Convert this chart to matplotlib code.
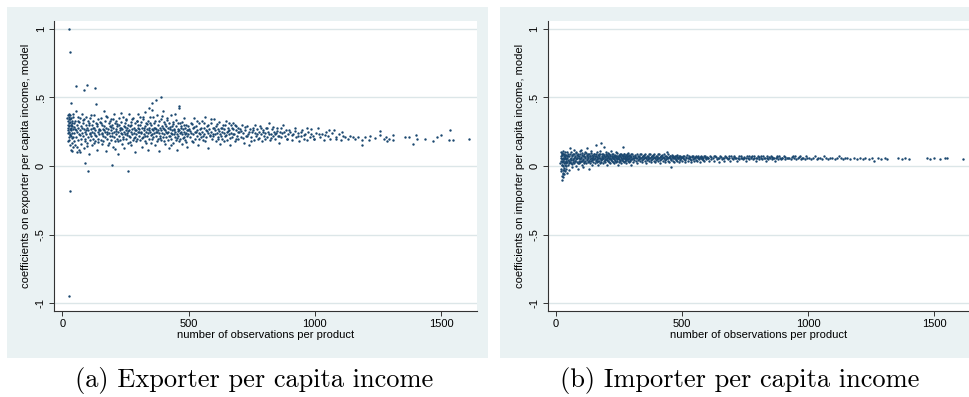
import numpy as np
import matplotlib
matplotlib.use("Agg")
import matplotlib.pyplot as plt
from matplotlib.patches import Rectangle

# values (x = obs per product, y = coefficient)
exp_outliers = [(25, 1.0), (31, 0.83), (32, -0.18), (28, -0.95), (35, 0.46), (55, 0.58),
                (85, 0.55), (97, 0.59), (128, 0.57), (135, 0.45), (88, 0.02), (100, -0.04),
                (262, -0.04), (197, 0.005), (392, 0.50), (370, 0.48), (462, 0.44), (355, 0.46),
                (345, 0.42), (300, 0.38), (60, 0.10), (40, 0.11)]
exp_low_n = [(20, 0.35), (21, 0.30), (22, 0.26), (22, 0.37), (23, 0.24), (24, 0.33), (24, 0.28),
             (25, 0.21), (25, 0.38), (26, 0.31), (27, 0.25), (27, 0.36), (28, 0.29), (28, 0.19),
             (29, 0.34), (30, 0.27), (30, 0.23), (31, 0.32), (31, 0.15), (32, 0.37), (33, 0.30),
             (33, 0.26), (34, 0.22), (35, 0.35), (35, 0.12), (36, 0.28), (37, 0.31), (37, 0.17),
             (38, 0.24), (39, 0.33), (40, 0.29), (41, 0.14), (42, 0.38), (43, 0.27), (44, 0.21),
             (45, 0.31)]
exp_50_150 = [(46, 0.24), (48, 0.18), (50, 0.33), (52, 0.27), (53, 0.40), (55, 0.21), (57, 0.30),
              (58, 0.14), (60, 0.25), (61, 0.36), (63, 0.19), (64, 0.28), (66, 0.32), (67, 0.23),
              (69, 0.10), (70, 0.26), (72, 0.35), (73, 0.20), (75, 0.29), (76, 0.16), (78, 0.38),
              (79, 0.24), (81, 0.31), (82, 0.22), (84, 0.27), (86, 0.13), (87, 0.34), (89, 0.25),
              (90, 0.20), (92, 0.30), (93, 0.36), (95, 0.23), (96, 0.17), (98, 0.28), (100, 0.33),
              (101, 0.21), (103, 0.26), (104, 0.09), (106, 0.31), (108, 0.24), (109, 0.19),
              (111, 0.35), (112, 0.27), (114, 0.22), (116, 0.30), (117, 0.15), (119, 0.25),
              (121, 0.33), (122, 0.20), (124, 0.28), (126, 0.24), (127, 0.37), (129, 0.18),
              (131, 0.26), (133, 0.31), (134, 0.22), (136, 0.12), (138, 0.29), (140, 0.25),
              (142, 0.34), (143, 0.20), (145, 0.27), (147, 0.23), (149, 0.32)]
exp_150_300 = [(151, 0.26), (153, 0.19), (154, 0.35), (156, 0.24), (158, 0.30), (159, 0.16),
               (161, 0.27), (163, 0.22), (164, 0.40), (166, 0.29), (168, 0.21), (169, 0.33),
               (171, 0.25), (173, 0.11), (174, 0.28), (176, 0.23), (178, 0.36), (179, 0.20),
               (181, 0.27), (183, 0.31), (184, 0.24), (186, 0.17), (188, 0.29), (189, 0.22),
               (191, 0.34), (193, 0.26), (194, 0.19), (196, 0.30), (198, 0.24), (199, 0.14),
               (201, 0.28), (203, 0.21), (204, 0.38), (206, 0.25), (208, 0.31), (209, 0.18),
               (211, 0.27), (213, 0.23), (214, 0.33), (216, 0.20), (218, 0.29), (219, 0.25),
               (221, 0.09), (223, 0.30), (224, 0.22), (226, 0.35), (228, 0.26), (229, 0.19),
               (231, 0.28), (233, 0.24), (234, 0.32), (236, 0.16), (238, 0.27), (239, 0.21),
               (241, 0.36), (243, 0.25), (244, 0.29), (246, 0.13), (248, 0.23), (249, 0.31),
               (251, 0.26), (253, 0.20), (254, 0.34), (256, 0.24), (258, 0.28), (259, 0.17),
               (261, 0.30), (263, 0.22), (264, 0.26), (266, 0.38), (268, 0.21), (269, 0.29),
               (271, 0.25), (273, 0.15), (274, 0.32), (276, 0.23), (278, 0.27), (279, 0.19),
               (281, 0.35), (283, 0.24), (284, 0.28), (286, 0.21), (288, 0.31), (289, 0.10),
               (291, 0.26), (293, 0.23), (294, 0.33), (296, 0.20), (298, 0.28), (299, 0.25)]
exp_300_500 = [(301, 0.30), (303, 0.22), (305, 0.27), (306, 0.36), (308, 0.19), (310, 0.25),
               (312, 0.32), (313, 0.24), (315, 0.14), (317, 0.28), (319, 0.21), (320, 0.34),
               (322, 0.26), (324, 0.23), (326, 0.39), (327, 0.29), (329, 0.18), (331, 0.25),
               (333, 0.31), (334, 0.22), (336, 0.27), (338, 0.12), (340, 0.33), (341, 0.24),
               (343, 0.28), (345, 0.20), (347, 0.36), (348, 0.25), (350, 0.30), (352, 0.17),
               (354, 0.27), (355, 0.23), (357, 0.41), (359, 0.26), (361, 0.21), (362, 0.31),
               (364, 0.24), (366, 0.28), (368, 0.15), (369, 0.33), (371, 0.22), (373, 0.27),
               (375, 0.37), (376, 0.25), (378, 0.20), (380, 0.30), (382, 0.24), (383, 0.11),
               (385, 0.28), (387, 0.22), (389, 0.34), (390, 0.26), (392, 0.19), (394, 0.29),
               (396, 0.24), (397, 0.40), (399, 0.21), (401, 0.27), (403, 0.32), (404, 0.23),
               (406, 0.16), (408, 0.26), (410, 0.29), (411, 0.21), (413, 0.35), (415, 0.24),
               (417, 0.19), (418, 0.28), (420, 0.25), (422, 0.13), (424, 0.31), (425, 0.22),
               (427, 0.27), (429, 0.37), (431, 0.24), (432, 0.20), (434, 0.29), (436, 0.26),
               (438, 0.17), (439, 0.32), (441, 0.23), (443, 0.27), (445, 0.21), (446, 0.38),
               (448, 0.25), (450, 0.19), (452, 0.29), (453, 0.23), (455, 0.12), (457, 0.27),
               (459, 0.31), (460, 0.22), (462, 0.26), (464, 0.42), (466, 0.24), (467, 0.20),
               (469, 0.29), (471, 0.25), (473, 0.16), (474, 0.32), (476, 0.23), (478, 0.27),
               (480, 0.21), (481, 0.35), (483, 0.25), (485, 0.19), (487, 0.28), (488, 0.24),
               (490, 0.30), (492, 0.22), (494, 0.26), (495, 0.14), (497, 0.29), (499, 0.23)]
exp_500_700 = [(502, 0.27), (505, 0.21), (508, 0.31), (510, 0.24), (513, 0.18), (516, 0.28),
               (519, 0.23), (521, 0.35), (524, 0.25), (527, 0.20), (530, 0.29), (532, 0.22),
               (535, 0.26), (538, 0.15), (541, 0.31), (543, 0.24), (546, 0.27), (549, 0.21),
               (552, 0.33), (554, 0.25), (557, 0.19), (560, 0.28), (563, 0.23), (565, 0.36),
               (568, 0.26), (571, 0.21), (574, 0.29), (576, 0.24), (579, 0.13), (582, 0.27),
               (585, 0.22), (587, 0.31), (590, 0.25), (593, 0.20), (596, 0.28), (598, 0.23),
               (601, 0.34), (604, 0.26), (607, 0.18), (609, 0.29), (612, 0.24), (615, 0.21),
               (618, 0.27), (620, 0.32), (623, 0.23), (626, 0.16), (629, 0.28), (631, 0.25),
               (634, 0.20), (637, 0.30), (640, 0.24), (642, 0.27), (645, 0.22), (648, 0.33),
               (651, 0.25), (653, 0.19), (656, 0.28), (659, 0.23), (662, 0.26), (664, 0.15),
               (667, 0.30), (670, 0.24), (673, 0.21), (675, 0.27), (678, 0.31), (681, 0.23),
               (684, 0.18), (686, 0.26), (689, 0.29), (692, 0.22), (695, 0.25), (697, 0.20)]
exp_700_900 = [(702, 0.27), (706, 0.21), (710, 0.30), (714, 0.24), (718, 0.17), (722, 0.26),
               (726, 0.22), (730, 0.29), (734, 0.23), (738, 0.15), (742, 0.27), (746, 0.21),
               (750, 0.25), (754, 0.28), (758, 0.19), (762, 0.24), (766, 0.22), (770, 0.27),
               (774, 0.20), (778, 0.25), (782, 0.29), (786, 0.23), (790, 0.18), (794, 0.26),
               (798, 0.22), (802, 0.24), (806, 0.28), (810, 0.21), (814, 0.25), (818, 0.31),
               (822, 0.19), (826, 0.23), (830, 0.27), (834, 0.22), (838, 0.25), (842, 0.20),
               (846, 0.24), (850, 0.28), (854, 0.22), (858, 0.17), (862, 0.25), (866, 0.21),
               (870, 0.24), (875, 0.30), (880, 0.22), (885, 0.26), (890, 0.20), (895, 0.23)]
exp_900_1180 = [(902, 0.25), (908, 0.19), (914, 0.23), (920, 0.28), (926, 0.21), (932, 0.24),
                (938, 0.18), (944, 0.22), (950, 0.26), (956, 0.20), (962, 0.23), (968, 0.19),
                (974, 0.25), (980, 0.21), (986, 0.27), (992, 0.22), (998, 0.20), (1005, 0.24),
                (1012, 0.28), (1020, 0.21), (1028, 0.23), (1036, 0.19), (1045, 0.25),
                (1052, 0.22), (1060, 0.20), (1068, 0.24), (1076, 0.26), (1085, 0.21),
                (1094, 0.23), (1102, 0.19), (1110, 0.22), (1120, 0.21), (1130, 0.20),
                (1140, 0.22), (1150, 0.21), (1160, 0.20), (1172, 0.21)]
exp_tail = [(1185, 0.19), (1187, 0.153), (1200, 0.209), (1215, 0.19), (1219, 0.219),
            (1240, 0.207), (1257, 0.253), (1258, 0.224), (1274, 0.199), (1281, 0.214),
            (1287, 0.184), (1295, 0.20), (1310, 0.224), (1310, 0.19), (1357, 0.209),
            (1374, 0.209), (1388, 0.162), (1401, 0.224), (1405, 0.195), (1438, 0.197),
            (1470, 0.184), (1483, 0.209), (1499, 0.224), (1530, 0.19), (1537, 0.262),
            (1546, 0.19), (1611, 0.195)]
exp_fill = [(23, 0.185), (26, 0.345), (29, 0.225), (34, 0.295), (39, 0.205), (44, 0.355),
            (47, 0.285), (51, 0.155), (56, 0.265), (62, 0.325), (65, 0.115), (71, 0.225),
            (77, 0.275), (83, 0.335), (88, 0.185), (94, 0.265), (99, 0.145), (105, 0.295),
            (110, 0.235), (115, 0.375), (120, 0.275), (125, 0.165), (130, 0.225), (137, 0.305),
            (141, 0.175), (146, 0.265), (152, 0.315), (157, 0.235), (162, 0.185), (167, 0.265),
            (172, 0.365), (177, 0.245), (182, 0.155), (187, 0.325), (192, 0.285), (197, 0.215),
            (202, 0.345), (207, 0.125), (212, 0.255), (217, 0.305), (222, 0.185), (227, 0.275),
            (232, 0.385), (237, 0.235), (242, 0.195), (247, 0.285), (252, 0.335), (257, 0.225),
            (262, 0.255), (267, 0.175), (272, 0.295), (277, 0.345), (282, 0.205), (287, 0.265),
            (292, 0.185), (297, 0.325), (304, 0.245), (309, 0.295), (314, 0.205), (318, 0.355),
            (323, 0.275), (328, 0.215), (332, 0.165), (337, 0.305), (342, 0.265), (346, 0.315),
            (351, 0.225), (356, 0.195), (360, 0.355), (365, 0.275), (370, 0.245), (374, 0.185),
            (379, 0.265), (384, 0.325), (388, 0.205), (393, 0.365), (398, 0.275), (402, 0.185),
            (407, 0.305), (412, 0.245), (416, 0.335), (421, 0.215), (426, 0.285), (430, 0.155),
            (435, 0.235), (440, 0.305), (444, 0.265), (449, 0.335), (454, 0.205), (458, 0.255),
            (463, 0.185), (468, 0.315), (472, 0.275), (477, 0.205), (482, 0.295), (486, 0.235),
            (491, 0.175), (496, 0.265), (506, 0.255), (512, 0.305), (518, 0.175), (523, 0.285),
            (529, 0.245), (534, 0.325), (540, 0.195), (545, 0.235), (551, 0.275), (556, 0.215),
            (562, 0.315), (567, 0.185), (573, 0.255), (578, 0.295), (584, 0.225), (589, 0.345),
            (595, 0.215), (600, 0.275), (606, 0.235), (611, 0.305), (617, 0.195), (622, 0.255),
            (628, 0.215), (633, 0.275), (639, 0.185), (644, 0.295), (650, 0.225), (655, 0.255),
            (661, 0.315), (666, 0.205), (672, 0.275), (677, 0.235), (683, 0.295), (688, 0.195),
            (694, 0.275), (699, 0.245), (708, 0.255), (716, 0.205), (724, 0.285), (732, 0.215),
            (740, 0.245), (748, 0.185), (756, 0.265), (764, 0.295), (772, 0.235), (780, 0.205),
            (788, 0.275), (796, 0.245), (804, 0.195), (812, 0.275), (820, 0.235), (828, 0.205),
            (836, 0.285), (844, 0.235), (852, 0.255), (860, 0.215), (868, 0.275), (878, 0.245),
            (888, 0.195), (898, 0.265), (911, 0.225), (923, 0.255), (935, 0.215), (947, 0.245),
            (959, 0.225), (971, 0.275), (983, 0.235), (995, 0.195), (1016, 0.235), (1040, 0.225),
            (1058, 0.265), (1082, 0.195), (1106, 0.245)]

imp_outliers = [(180, 0.17), (160, 0.15), (190, 0.14), (265, 0.14), (122, 0.13), (55, 0.13),
                (25, -0.10), (27, -0.08), (30, -0.06), (455, -0.01)]
imp_low_n = [(19, 0.02), (20, -0.04), (20, 0.07), (21, 0.10), (22, -0.02), (22, 0.04), (23, 0.08),
             (24, -0.07), (24, 0.01), (25, 0.05), (26, 0.09), (26, 0.03), (27, -0.05), (28, 0.06),
             (28, 0.00), (29, 0.11), (29, -0.03), (30, 0.04), (31, 0.07), (31, -0.03), (32, 0.02),
             (33, 0.09), (33, -0.06), (34, 0.05), (35, 0.01), (35, 0.08), (36, -0.04), (37, 0.06),
             (38, 0.03), (38, 0.10), (39, -0.02), (40, 0.05), (41, 0.08), (42, 0.00), (42, 0.04),
             (43, 0.07), (44, -0.05), (45, 0.03)]
imp_50_150 = [(46, 0.06), (48, 0.01), (49, 0.09), (51, 0.04), (52, -0.03), (54, 0.07), (56, 0.03),
              (58, 0.05), (59, 0.10), (61, 0.02), (62, 0.06), (64, 0.08), (65, -0.01), (67, 0.05),
              (68, 0.03), (70, 0.09), (71, 0.06), (73, 0.12), (74, 0.02), (76, 0.07), (77, 0.04),
              (79, 0.10), (80, 0.00), (82, 0.05), (83, 0.08), (85, 0.03), (86, 0.06), (88, -0.02),
              (89, 0.09), (91, 0.04), (92, 0.07), (94, 0.02), (95, 0.11), (97, 0.05), (98, 0.03),
              (100, 0.12), (101, 0.06), (103, 0.01), (104, 0.08), (106, 0.04), (107, 0.07),
              (109, -0.01), (110, 0.05), (112, 0.09), (113, 0.03), (115, 0.06), (116, 0.10),
              (118, 0.04), (119, 0.02), (122, 0.07), (124, 0.05), (125, 0.08), (127, 0.03),
              (128, 0.06), (130, -0.02), (131, 0.04), (133, 0.09), (134, 0.05), (136, 0.02),
              (137, 0.07), (139, 0.11), (140, 0.04), (142, 0.06), (143, 0.01), (145, 0.08),
              (146, 0.05), (148, 0.03), (149, 0.07)]
imp_150_300 = [(151, 0.05), (153, 0.09), (154, 0.02), (156, 0.06), (159, 0.04), (160, 0.07),
               (162, 0.03), (163, 0.10), (165, 0.05), (166, 0.01), (168, 0.08), (169, 0.06),
               (171, 0.04), (172, 0.09), (174, 0.02), (175, 0.06), (177, 0.11), (178, 0.05),
               (181, 0.03), (183, 0.07), (184, 0.05), (186, 0.09), (187, 0.02), (189, 0.06),
               (192, 0.04), (193, 0.08), (195, 0.05), (196, 0.03), (198, 0.07), (199, 0.10),
               (201, 0.05), (202, 0.01), (204, 0.06), (205, 0.08), (207, 0.04), (208, 0.07),
               (210, 0.03), (211, 0.09), (213, 0.05), (214, 0.06), (216, 0.02), (217, 0.08),
               (219, 0.05), (220, 0.11), (222, 0.04), (223, 0.07), (225, 0.03), (226, 0.06),
               (228, 0.09), (229, 0.05), (231, 0.02), (232, 0.07), (234, 0.04), (235, 0.08),
               (237, 0.06), (238, 0.03), (240, 0.10), (241, 0.05), (243, 0.07), (244, 0.04),
               (246, 0.01), (247, 0.06), (249, 0.08), (250, 0.05), (252, 0.03), (253, 0.07),
               (255, 0.09), (256, 0.04), (258, 0.06), (259, 0.02), (261, 0.08), (262, 0.05),
               (265, 0.07), (267, 0.04), (268, 0.06), (270, 0.09), (271, 0.03), (273, 0.05),
               (274, 0.07), (276, 0.04), (277, 0.08), (279, 0.06), (280, 0.02), (282, 0.05),
               (283, 0.09), (285, 0.04), (286, 0.07), (288, 0.05), (289, 0.03), (291, 0.08),
               (292, 0.06), (294, 0.04), (295, 0.07), (297, 0.01), (298, 0.05), (300, 0.09)]
imp_300_600 = [(302, 0.05), (305, 0.07), (308, 0.03), (311, 0.06), (314, 0.08), (317, 0.04),
               (320, 0.06), (323, 0.02), (326, 0.07), (329, 0.05), (332, 0.09), (335, 0.04),
               (338, 0.06), (341, 0.03), (344, 0.07), (347, 0.05), (350, 0.08), (353, 0.04),
               (356, 0.06), (359, 0.02), (362, 0.07), (365, 0.05), (368, 0.09), (371, 0.04),
               (374, 0.06), (377, 0.03), (380, 0.07), (383, 0.05), (386, 0.08), (389, 0.04),
               (392, 0.06), (395, 0.03), (398, 0.07), (401, 0.05), (404, 0.09), (407, 0.04),
               (410, 0.06), (413, 0.02), (416, 0.07), (419, 0.05), (422, 0.08), (425, 0.04),
               (428, 0.06), (431, 0.03), (434, 0.07), (437, 0.05), (440, 0.10), (443, 0.04),
               (446, 0.06), (449, 0.03), (452, 0.07), (458, 0.05), (461, 0.08), (464, 0.04),
               (467, 0.06), (470, 0.03), (473, 0.07), (476, 0.05), (479, 0.08), (482, 0.04),
               (485, 0.06), (488, 0.03), (491, 0.07), (494, 0.05), (497, 0.06), (500, 0.04),
               (504, 0.07), (508, 0.05), (512, 0.03), (516, 0.06), (520, 0.08), (524, 0.04),
               (528, 0.06), (532, 0.05), (536, 0.03), (540, 0.07), (544, 0.05), (548, 0.04),
               (552, 0.06), (556, 0.07), (560, 0.04), (564, 0.06), (568, 0.05), (572, 0.03),
               (576, 0.07), (580, 0.05), (584, 0.06), (588, 0.04), (592, 0.07), (596, 0.05)]
imp_600_1000 = [(602, 0.06), (607, 0.04), (612, 0.07), (617, 0.05), (622, 0.06), (627, 0.04),
                (632, 0.07), (637, 0.05), (642, 0.06), (647, 0.03), (652, 0.07), (657, 0.05),
                (662, 0.06), (667, 0.04), (672, 0.07), (677, 0.06), (682, 0.05), (687, 0.07),
                (692, 0.04), (697, 0.06), (702, 0.05), (707, 0.07), (712, 0.06), (717, 0.04),
                (722, 0.06), (727, 0.05), (732, 0.07), (737, 0.06), (742, 0.05), (747, 0.06),
                (752, 0.04), (757, 0.07), (762, 0.06), (767, 0.05), (772, 0.06), (777, 0.07),
                (782, 0.05), (787, 0.06), (792, 0.04), (797, 0.06), (802, 0.07), (807, 0.05),
                (812, 0.06), (817, 0.05), (822, 0.07), (827, 0.06), (832, 0.04), (837, 0.06),
                (842, 0.05), (847, 0.06), (852, 0.07), (857, 0.05), (862, 0.06), (867, 0.04),
                (872, 0.06), (877, 0.07), (882, 0.05), (887, 0.06), (892, 0.05), (897, 0.06),
                (903, 0.07), (910, 0.05), (917, 0.06), (924, 0.06), (931, 0.05), (938, 0.07),
                (945, 0.06), (952, 0.05), (959, 0.06), (966, 0.07), (973, 0.05), (980, 0.06),
                (987, 0.05), (994, 0.06)]
imp_tail = [(1002, 0.06), (1010, 0.05), (1018, 0.06), (1025, 0.07), (1033, 0.05), (1040, 0.06),
            (1048, 0.06), (1056, 0.05), (1064, 0.07), (1072, 0.06), (1080, 0.05), (1088, 0.06),
            (1096, 0.06), (1105, 0.05), (1114, 0.06), (1122, 0.07), (1130, 0.06), (1138, 0.05),
            (1146, 0.06), (1155, 0.06), (1165, 0.05), (1180, 0.06), (1192, 0.05), (1205, 0.06),
            (1218, 0.05), (1226, 0.06), (1240, 0.05), (1252, 0.06), (1262, 0.04), (1275, 0.06),
            (1290, 0.05), (1305, 0.06), (1312, 0.05), (1355, 0.06), (1370, 0.05), (1385, 0.06),
            (1400, 0.05), (1470, 0.06), (1482, 0.05), (1500, 0.06), (1520, 0.05), (1540, 0.06),
            (1550, 0.06), (1612, 0.05)]
imp_fill = [(21, 0.055), (23, 0.005), (24, 0.095), (27, 0.035), (30, 0.085), (32, -0.015),
            (36, 0.065), (40, 0.025), (43, 0.105), (47, 0.045), (50, 0.075), (53, 0.025),
            (57, 0.085), (60, 0.045), (63, 0.015), (66, 0.075), (69, 0.045), (72, 0.085),
            (75, 0.035), (78, 0.065), (81, 0.095), (84, 0.055), (87, 0.025), (90, 0.075),
            (93, 0.055), (96, 0.085), (99, 0.035), (102, 0.065), (105, 0.095), (108, 0.045),
            (111, 0.075), (114, 0.025), (117, 0.065), (120, 0.095), (123, 0.045), (126, 0.065),
            (129, 0.085), (132, 0.035), (135, 0.075), (138, 0.055), (141, 0.095), (144, 0.045),
            (147, 0.065), (150, 0.085), (155, 0.075), (158, 0.045), (161, 0.085), (164, 0.065),
            (167, 0.035), (170, 0.075), (173, 0.055), (176, 0.085), (179, 0.045), (182, 0.065),
            (185, 0.085), (188, 0.055), (191, 0.075), (194, 0.045), (197, 0.065), (200, 0.085),
            (203, 0.045), (206, 0.065), (209, 0.095), (212, 0.055), (215, 0.075), (218, 0.045),
            (221, 0.065), (224, 0.085), (227, 0.055), (230, 0.075), (233, 0.065), (236, 0.045),
            (239, 0.075), (242, 0.095), (245, 0.055), (248, 0.065), (251, 0.075), (254, 0.045),
            (257, 0.085), (260, 0.065), (263, 0.045), (266, 0.075), (269, 0.055), (272, 0.085),
            (275, 0.065), (278, 0.045), (281, 0.075), (284, 0.065), (287, 0.095), (290, 0.055),
            (293, 0.075), (296, 0.045), (299, 0.065), (303, 0.085), (307, 0.055), (310, 0.045),
            (313, 0.065), (316, 0.075), (319, 0.055), (322, 0.085), (325, 0.045), (328, 0.065),
            (331, 0.075), (334, 0.055), (337, 0.085), (340, 0.065), (343, 0.045), (346, 0.075),
            (349, 0.055), (352, 0.065), (355, 0.085), (358, 0.055), (361, 0.045), (364, 0.075),
            (367, 0.065), (370, 0.055), (373, 0.085), (376, 0.065), (379, 0.045), (382, 0.075),
            (385, 0.055), (388, 0.065), (391, 0.085), (394, 0.055), (397, 0.045), (400, 0.075),
            (403, 0.065), (406, 0.055), (409, 0.085), (412, 0.065), (415, 0.045), (418, 0.075),
            (421, 0.055), (424, 0.065), (427, 0.085), (430, 0.055), (433, 0.045), (436, 0.075),
            (439, 0.065), (442, 0.055), (445, 0.085), (448, 0.065), (451, 0.055), (454, 0.075),
            (457, 0.045), (460, 0.065), (463, 0.055), (466, 0.075), (469, 0.065), (472, 0.055),
            (475, 0.075), (478, 0.045), (481, 0.065), (484, 0.055), (487, 0.075), (490, 0.065),
            (493, 0.045), (496, 0.065), (502, 0.065), (506, 0.055), (510, 0.075), (514, 0.045),
            (518, 0.065), (522, 0.055), (526, 0.075), (530, 0.065), (534, 0.045), (538, 0.065),
            (542, 0.075), (546, 0.055), (550, 0.065), (554, 0.045), (558, 0.065), (562, 0.075),
            (566, 0.055), (570, 0.065), (574, 0.055), (578, 0.065), (582, 0.045), (586, 0.075),
            (590, 0.065), (594, 0.055), (598, 0.065), (605, 0.055), (615, 0.065), (625, 0.075),
            (635, 0.065), (645, 0.055), (655, 0.065), (665, 0.055), (675, 0.065), (685, 0.055),
            (695, 0.075), (705, 0.065), (715, 0.055), (725, 0.075), (735, 0.055), (745, 0.065),
            (755, 0.055), (765, 0.075), (775, 0.065), (785, 0.075), (795, 0.055), (805, 0.065),
            (815, 0.075), (825, 0.055), (835, 0.075), (845, 0.065), (855, 0.065), (865, 0.055),
            (875, 0.065), (885, 0.075), (895, 0.055), (907, 0.065), (921, 0.055), (935, 0.065),
            (949, 0.075), (963, 0.065), (977, 0.055), (991, 0.075)]

y_ticks = [-1, -0.5, 0, 0.5, 1]
y_tick_labels = ["-1", "-.5", "0", ".5", "1"]
x_ticks = [0, 500, 1000, 1500]

exporter = np.array(exp_outliers + exp_low_n + exp_50_150 + exp_150_300 + exp_300_500 +
                    exp_500_700 + exp_700_900 + exp_900_1180 + exp_tail + exp_fill)
importer = np.array(imp_outliers + imp_low_n + imp_50_150 + imp_150_300 + imp_300_600 +
                    imp_600_1000 + imp_tail + imp_fill)

W, H = 969, 397
bg_color = "#EAF2F3"
grid_color = "#DCE6E8"
dot_color = "#1A476F"

fig = plt.figure(figsize=(W / 100, H / 100), dpi=100, facecolor="white")

# Stata-style graph region behind each panel
for x0, x1 in [(7, 488), (500, 969)]:
    fig.add_artist(Rectangle((x0 / W, 1 - 358 / H), (x1 - x0) / W, 351 / H,
                             transform=fig.transFigure, facecolor=bg_color,
                             edgecolor="none", zorder=0))


def make_panel(left_px, right_px, zero_px, pts, ylabel):
    ax = fig.add_axes([left_px / W, 1 - 311 / H, (right_px - left_px) / W, 290 / H])
    ax.set_facecolor("white")
    scale = 0.2525
    ax.set_xlim(-(zero_px - left_px) / scale, (right_px - zero_px) / scale)
    ax.set_ylim(-1.056, 1.056)
    for yv in y_ticks:
        ax.axhline(yv, color=grid_color, lw=1.0, zorder=1)
    ax.scatter(pts[:, 0], pts[:, 1], s=3.0, color=dot_color, linewidths=0, zorder=3)
    for side in ["top", "right"]:
        ax.spines[side].set_visible(False)
    for side in ["left", "bottom"]:
        ax.spines[side].set_color("#333333")
        ax.spines[side].set_linewidth(0.8)
    ax.set_yticks(y_ticks)
    ax.set_yticklabels(y_tick_labels, rotation=90, va="center")
    ax.set_xticks(x_ticks)
    ax.tick_params(direction="out", length=3.5, width=0.7, color="#333333",
                   labelsize=8, pad=2.5)
    for lab in ax.get_xticklabels() + ax.get_yticklabels():
        lab.set_fontfamily("Liberation Sans")
    ax.set_xlabel("number of observations per product", fontsize=8,
                  family="Liberation Sans", labelpad=0.5)
    ax.set_ylabel(ylabel, fontsize=8, family="Liberation Sans", labelpad=3)
    return ax


make_panel(54, 477, 62.3, exporter,
           "coefficients on exporter per capita income, model")
make_panel(547.7, 969, 555.7, importer,
           "coefficients on importer per capita income, model")

fig.text(254 / W, 1 - 381 / H, "(a) Exporter per capita income", family="cmr10",
         fontsize=19, ha="center", va="center")
fig.text(740 / W, 1 - 381 / H, "(b) Importer per capita income", family="cmr10",
         fontsize=19, ha="center", va="center")

fig.savefig("out.png", dpi=100, facecolor="white")
